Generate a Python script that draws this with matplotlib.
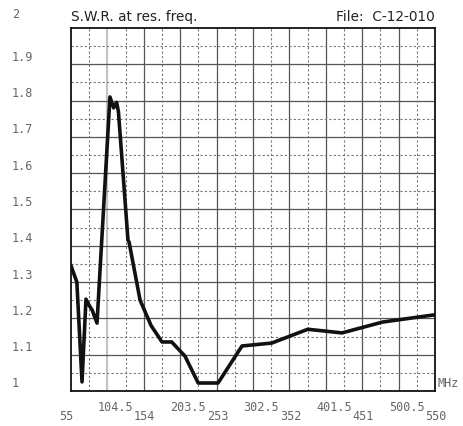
import numpy as np
import matplotlib.pyplot as plt

# SWR at resonant frequency
freq = [55, 63, 70, 75.4, 80, 84, 90.4, 108, 113, 117, 119.5, 132.5, 134,
        149, 164, 178.8, 192, 210, 228, 255, 287.6, 328, 377, 423.5, 479, 550]
swr = [1.345, 1.30, 1.025, 1.253, 1.235, 1.222, 1.187, 1.81, 1.78, 1.795, 1.77,
       1.416, 1.41, 1.25, 1.18, 1.135, 1.135, 1.096, 1.022, 1.022, 1.124,
       1.132, 1.17, 1.16, 1.19, 1.21]

x_low = ["55", "154", "253", "352", "451", "550"]
x_high = ["104.5", "203.5", "302.5", "401.5", "500.5"]
y_labels = ["1", "1.1", "1.2", "1.3", "1.4", "1.5", "1.6", "1.7", "1.8", "1.9", "2"]

fig = plt.figure(figsize=(4.63, 4.26), dpi=100)
ax = fig.add_axes([0.1533, 0.0822, 0.7862, 0.8521])
ax.set_xlim(55, 550)
ax.set_ylim(1, 2)

# grid: solid majors, dotted mid lines
step = 49.5
for i in range(1, 10):
    xv = 55 + i * step
    col = "#c4c4c4" if i == 1 else "#555555"
    lw = 1.6 if i == 1 else 0.9
    ax.axvline(xv, color=col, lw=lw, zorder=1)
    ax.axhline(1 + i * 0.1, color="#555555", lw=0.9, zorder=1)
for i in range(10):
    ax.axvline(55 + (i + 0.5) * step, color="#777777", lw=0.8, ls=(0, (2, 2)), zorder=1)
    ax.axhline(1 + (i + 0.5) * 0.1, color="#777777", lw=0.8, ls=(0, (2, 2)), zorder=1)

ax.plot(freq, swr, color="#111111", lw=2.6, solid_joinstyle="round", zorder=3)

ax.set_xticks([])
ax.set_yticks([])
for s in ax.spines.values():
    s.set_linewidth(1.3)
    s.set_color("#111111")

mono = dict(family="DejaVu Sans Mono", fontsize=8.5, color="#666666")

for i, lab in enumerate(y_labels):
    dy = 13 if lab == "2" else 7
    ax.annotate(lab, xy=(0, 1 + i * 0.1), xycoords=("axes fraction", "data"),
                xytext=(-59, dy), textcoords="offset pixels",
                ha="left", va="center", annotation_clip=False, **mono)

for i, lab in enumerate(x_low):
    xv = 55 + 2 * i * step
    dx = -5 if i == 0 else 1
    ax.annotate(lab, xy=(xv, 0), xycoords=("data", "axes fraction"),
                xytext=(dx, -26), textcoords="offset pixels",
                ha="center", va="center", annotation_clip=False, **mono)
for i, lab in enumerate(x_high):
    xv = 55 + (2 * i + 1) * step
    ax.annotate(lab, xy=(xv, 0), xycoords=("data", "axes fraction"),
                xytext=(8, -17), textcoords="offset pixels",
                ha="center", va="center", annotation_clip=False, **mono)

ax.annotate("MHz", xy=(1, 0), xycoords="axes fraction", xytext=(3, 7),
            textcoords="offset pixels", ha="left", va="center",
            annotation_clip=False, **mono)

ax.text(0, 1.01, "S.W.R. at res. freq.", transform=ax.transAxes,
        ha="left", va="bottom", fontsize=9.8, family="DejaVu Sans", color="#222222")
ax.text(1, 1.01, "File:  C-12-010", transform=ax.transAxes,
        ha="right", va="bottom", fontsize=9.8, family="DejaVu Sans", color="#222222")

fig.savefig("out.png", dpi=100, facecolor="white")
